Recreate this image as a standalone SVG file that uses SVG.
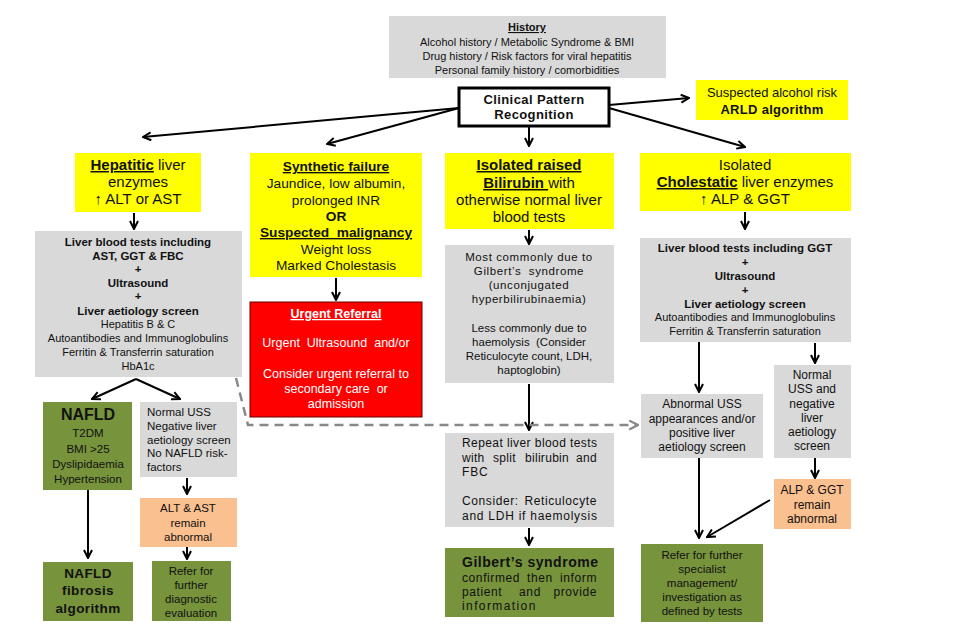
<svg xmlns="http://www.w3.org/2000/svg" width="978" height="632" viewBox="0 0 978 632">
<defs>
<style>
text{font-family:"Liberation Sans",Arial,sans-serif;fill:#111;text-anchor:middle}
.b{font-weight:bold}
.u{text-decoration:underline}
.s11{font-size:11px}
.s115{font-size:11.5px}
.s12{font-size:12px}
.s125{font-size:12.5px}
.s13{font-size:13px}
.s137{font-size:13.7px}
.s15{font-size:15px}
.l{text-anchor:start}
.r{text-anchor:end}
.w{fill:#fff}
.gray{fill:#d9d9d9}
.yel{fill:#ffff00}
.grn{fill:#77933c}
.pch{fill:#fac090}
.con{fill:none;stroke:#000;stroke-width:2}
</style>
<marker id="ah" viewBox="0 0 10 10" refX="9" refY="5" markerWidth="10" markerHeight="10" markerUnits="userSpaceOnUse" orient="auto"><path d="M1,1 L9,5 L1,9" fill="none" stroke="#000" stroke-width="2"/></marker>
<marker id="ahg" viewBox="0 0 10 10" refX="9" refY="5" markerWidth="11" markerHeight="11" markerUnits="userSpaceOnUse" orient="auto"><path d="M1,1 L9,5 L1,9" fill="none" stroke="#888" stroke-width="2"/></marker>
</defs>
<rect width="978" height="632" fill="#fff"/>

<g id="connectors">
<line class="con" x1="459" y1="108" x2="143" y2="137" marker-end="url(#ah)"/>
<line class="con" x1="459" y1="108" x2="327" y2="144" marker-end="url(#ah)"/>
<line class="con" x1="529" y1="127" x2="529" y2="146" marker-end="url(#ah)"/>
<line class="con" x1="609" y1="105" x2="689" y2="98" marker-end="url(#ah)"/>
<line class="con" x1="609" y1="108" x2="745" y2="147" marker-end="url(#ah)"/>
<line class="con" x1="134" y1="213" x2="134" y2="229" marker-end="url(#ah)"/>
<line class="con" x1="336" y1="278" x2="336" y2="300" marker-end="url(#ah)"/>
<line class="con" x1="529" y1="230" x2="529" y2="244" marker-end="url(#ah)"/>
<line class="con" x1="529" y1="384" x2="529" y2="430" marker-end="url(#ah)"/>
<line class="con" x1="529" y1="528" x2="529" y2="545" marker-end="url(#ah)"/>
<line class="con" x1="745" y1="212" x2="745" y2="229" marker-end="url(#ah)"/>
<line class="con" x1="699" y1="342" x2="699" y2="392" marker-end="url(#ah)"/>
<line class="con" x1="815" y1="343" x2="815" y2="363" marker-end="url(#ah)"/>
<line class="con" x1="699" y1="458" x2="699" y2="538" marker-end="url(#ah)"/>
<line class="con" x1="815" y1="458" x2="815" y2="478" marker-end="url(#ah)"/>
<line class="con" x1="770" y1="500" x2="707" y2="537" marker-end="url(#ah)"/>
<line class="con" x1="136" y1="379" x2="92" y2="399" marker-end="url(#ah)"/>
<line class="con" x1="136" y1="379" x2="180" y2="399" marker-end="url(#ah)"/>
<line class="con" x1="88" y1="490" x2="88" y2="558" marker-end="url(#ah)"/>
<line class="con" x1="187" y1="478" x2="187" y2="494" marker-end="url(#ah)"/>
<line class="con" x1="187" y1="547" x2="187" y2="559" marker-end="url(#ah)"/>
<path d="M236,378 L248,425 L638,425" fill="none" stroke="#888" stroke-width="2.5" stroke-dasharray="9,6" marker-end="url(#ahg)"/>
</g>

<g id="history">
<rect class="gray" x="389" y="16" width="277" height="62"/>
<text class="s11 b u" x="527" y="31">History</text>
<text class="s11" x="527" y="46">Alcohol history / Metabolic Syndrome &amp; BMI</text>
<text class="s11" x="527" y="60">Drug history / Risk factors for viral hepatitis</text>
<text class="s11" x="527" y="74">Personal family history / comorbidities</text>
</g>

<g id="clinical">
<rect x="459" y="88" width="150" height="38" fill="#fff" stroke="#000" stroke-width="3"/>
<text class="s13 b" x="534" y="104" letter-spacing="0.4">Clinical Pattern</text>
<text class="s13 b" x="534" y="119" letter-spacing="0.4">Recognition</text>
</g>

<g id="arld">
<rect class="yel" x="696" y="80" width="152" height="40"/>
<text class="s13" x="772" y="97">Suspected alcohol risk</text>
<text class="s13 b" x="772" y="114" letter-spacing="0.3">ARLD algorithm</text>
</g>

<g id="hepatitic">
<rect class="yel" x="75" y="153" width="126" height="59"/>
<text class="s15" x="138" y="170"><tspan class="b u">Hepatitic</tspan> liver</text>
<text class="s15" x="138" y="187">enzymes</text>
<text class="s15" x="138" y="204">↑ ALT or AST</text>
</g>

<g id="hep-tests">
<rect class="gray" x="35" y="231" width="207" height="146"/>
<text class="s115 b" x="138" y="246">Liver blood tests including</text>
<text class="s115 b" x="138" y="260">AST, GGT &amp; FBC</text>
<text class="s115 b" x="138" y="273">+</text>
<text class="s115 b" x="138" y="287">Ultrasound</text>
<text class="s115 b" x="138" y="300">+</text>
<text class="s115 b" x="138" y="315">Liver aetiology screen</text>
<text class="s11" x="138" y="328">Hepatitis B &amp; C</text>
<text class="s11" x="138" y="342">Autoantibodies and Immunoglobulins</text>
<text class="s11" x="138" y="356">Ferritin &amp; Transferrin saturation</text>
<text class="s11" x="138" y="370">HbA1c</text>
</g>

<g id="nafld">
<rect class="grn" x="43" y="402" width="89" height="88"/>
<text class="b" font-size="16" x="88" y="420">NAFLD</text>
<text class="s115" x="88" y="437">T2DM</text>
<text class="s115" x="88" y="453">BMI &gt;25</text>
<text class="s115" x="88" y="468">Dyslipidaemia</text>
<text class="s115" x="88" y="483">Hypertension</text>
</g>

<g id="normal-uss-left">
<rect class="gray" x="140" y="402" width="97" height="75"/>
<text class="s115 l" x="147" y="416">Normal USS</text>
<text class="s115 l" x="147" y="430">Negative liver</text>
<text class="s115 l" x="147" y="444">aetiology screen</text>
<text class="s115 l" x="147" y="457">No NAFLD risk-</text>
<text class="s115 l" x="147" y="471">factors</text>
</g>

<g id="alt-ast">
<rect class="pch" x="140" y="498" width="97" height="49"/>
<text class="s115" x="188" y="512">ALT &amp; AST</text>
<text class="s115" x="188" y="527">remain</text>
<text class="s115" x="188" y="541">abnormal</text>
</g>

<g id="nafld-fibrosis">
<rect class="grn" x="43" y="562" width="90" height="59"/>
<text class="b" font-size="13.5" x="88" y="578" letter-spacing="0.4">NAFLD</text>
<text class="b" font-size="13.5" x="88" y="595" letter-spacing="0.4">fibrosis</text>
<text class="b" font-size="13.5" x="88" y="613" letter-spacing="0.4">algorithm</text>
</g>

<g id="refer-diagnostic">
<rect class="grn" x="152" y="561" width="79" height="60"/>
<text class="s115" x="191" y="575">Refer for</text>
<text class="s115" x="191" y="589">further</text>
<text class="s115" x="191" y="603">diagnostic</text>
<text class="s115" x="191" y="617">evaluation</text>
</g>

<g id="synthetic">
<rect class="yel" x="250" y="153" width="172" height="124"/>
<text class="s137 b u" x="336" y="171">Synthetic failure</text>
<text class="s137" x="336" y="188">Jaundice, low albumin,</text>
<text class="s137" x="336" y="205">prolonged INR</text>
<text class="s137 b" x="336" y="221">OR</text>
<text class="s137 b u" x="336" y="237" xml:space="preserve">Suspected  malignancy</text>
<text class="s137" x="336" y="254">Weight loss</text>
<text class="s137" x="336" y="270">Marked Cholestasis</text>
</g>

<g id="urgent">
<rect x="250" y="302" width="172" height="115" fill="#ff0000" stroke="#600" stroke-width="1"/>
<text class="s125 b u w" x="336" y="318">Urgent Referral</text>
<text class="s125 w" x="336" y="347" xml:space="preserve">Urgent  Ultrasound  and/or</text>
<text class="s125 w" x="336" y="378">Consider urgent referral to</text>
<text class="s125 w" x="336" y="393" xml:space="preserve">secondary care  or</text>
<text class="s125 w" x="336" y="408">admission</text>
</g>

<g id="bilirubin">
<rect class="yel" x="445" y="153" width="169" height="76"/>
<text class="s15 b u" x="529" y="170">Isolated raised</text>
<text class="s15" x="529" y="188" xml:space="preserve"><tspan class="b u">Bilirubin </tspan>with</text>
<text class="s15" x="529" y="205">otherwise normal liver</text>
<text class="s15" x="529" y="222">blood tests</text>
</g>

<g id="gilbert-cause">
<rect class="gray" x="445" y="245" width="169" height="138"/>
<text class="s115" x="529" y="261" letter-spacing="0.6">Most commonly due to</text>
<text class="s115" x="529" y="275" letter-spacing="0.6" xml:space="preserve">Gilbert’s  syndrome</text>
<text class="s115" x="529" y="289" letter-spacing="0.6">(unconjugated</text>
<text class="s115" x="529" y="303" letter-spacing="0.55">hyperbilirubinaemia)</text>
<text class="s115" x="529" y="332">Less commonly due to</text>
<text class="s115" x="529" y="346" xml:space="preserve">haemolysis  (Consider</text>
<text class="s115" x="529" y="360">Reticulocyte count, LDH,</text>
<text class="s115" x="529" y="374">haptoglobin)</text>
</g>

<g id="repeat">
<rect class="gray" x="445" y="433" width="169" height="94"/>
<text class="s12 l" x="462" y="447" textLength="135" lengthAdjust="spacing">Repeat liver blood tests</text>
<text class="s12 l" y="462" letter-spacing="0.3"><tspan x="462">with</tspan><tspan x="493">split</tspan><tspan x="525">bilirubin</tspan></text>
<text class="s12 r" x="597" y="462" letter-spacing="0.3">and</text>
<text class="s12 l" x="462" y="476" letter-spacing="0.8">FBC</text>
<text class="s12 l" x="462" y="505" letter-spacing="0.6">Consider:</text>
<text class="s12 r" x="597" y="505" letter-spacing="0.6">Reticulocyte</text>
<text class="s12 l" x="462" y="520" textLength="135" lengthAdjust="spacing">and LDH if haemolysis</text>
</g>

<g id="gilbert">
<rect class="grn" x="445" y="548" width="169" height="69"/>
<text class="b l" font-size="14" x="462" y="567" textLength="136" lengthAdjust="spacing">Gilbert’s syndrome</text>
<text class="s12 l" y="582" letter-spacing="0.6"><tspan x="462">confirmed</tspan><tspan x="527">then</tspan></text>
<text class="s12 r" x="597" y="582" letter-spacing="0.6">inform</text>
<text class="s12 l" x="462" y="596" letter-spacing="0.6">patient</text>
<text class="s12" x="530" y="596" letter-spacing="0.6">and</text>
<text class="s12 r" x="597" y="596" letter-spacing="0.6">provide</text>
<text class="s12 l" x="462" y="610" letter-spacing="1.4">information</text>
</g>

<g id="cholestatic">
<rect class="yel" x="640" y="153" width="211" height="58"/>
<text class="s15" x="745" y="170">Isolated</text>
<text class="s15" x="745" y="187"><tspan class="b u">Cholestatic</tspan> liver enzymes</text>
<text class="s15" x="745" y="204">↑ ALP &amp; GGT</text>
</g>

<g id="chol-tests">
<rect class="gray" x="640" y="238" width="211" height="104"/>
<text class="s115 b" x="745" y="252">Liver blood tests including GGT</text>
<text class="s115 b" x="745" y="266">+</text>
<text class="s115 b" x="745" y="280">Ultrasound</text>
<text class="s115 b" x="745" y="294">+</text>
<text class="s115 b" x="745" y="308">Liver aetiology screen</text>
<text class="s11" x="745" y="321">Autoantibodies and Immunoglobulins</text>
<text class="s11" x="745" y="335">Ferritin &amp; Transferrin saturation</text>
</g>

<g id="abnormal-uss">
<rect class="gray" x="641" y="394" width="122" height="64"/>
<text class="s12" x="702" y="408">Abnormal USS</text>
<text class="s12" x="702" y="423">appearances and/or</text>
<text class="s12" x="702" y="437">positive liver</text>
<text class="s12" x="702" y="451">aetiology screen</text>
</g>

<g id="normal-uss-right">
<rect class="gray" x="774" y="365" width="77" height="93"/>
<text class="s12" x="812" y="379">Normal</text>
<text class="s12" x="812" y="393">USS and</text>
<text class="s12" x="812" y="408">negative</text>
<text class="s12" x="812" y="422">liver</text>
<text class="s12" x="812" y="436">aetiology</text>
<text class="s12" x="812" y="450">screen</text>
</g>

<g id="alp-ggt">
<rect class="pch" x="774" y="479" width="77" height="50"/>
<text class="s12" x="812" y="494">ALP &amp; GGT</text>
<text class="s12" x="812" y="509">remain</text>
<text class="s12" x="812" y="523">abnormal</text>
</g>

<g id="refer-specialist">
<rect class="grn" x="641" y="544" width="122" height="78"/>
<text class="s115" x="702" y="559">Refer for further</text>
<text class="s115" x="702" y="573">specialist</text>
<text class="s115" x="702" y="587">management/</text>
<text class="s115" x="702" y="601">investigation as</text>
<text class="s115" x="702" y="615">defined by tests</text>
</g>
</svg>
